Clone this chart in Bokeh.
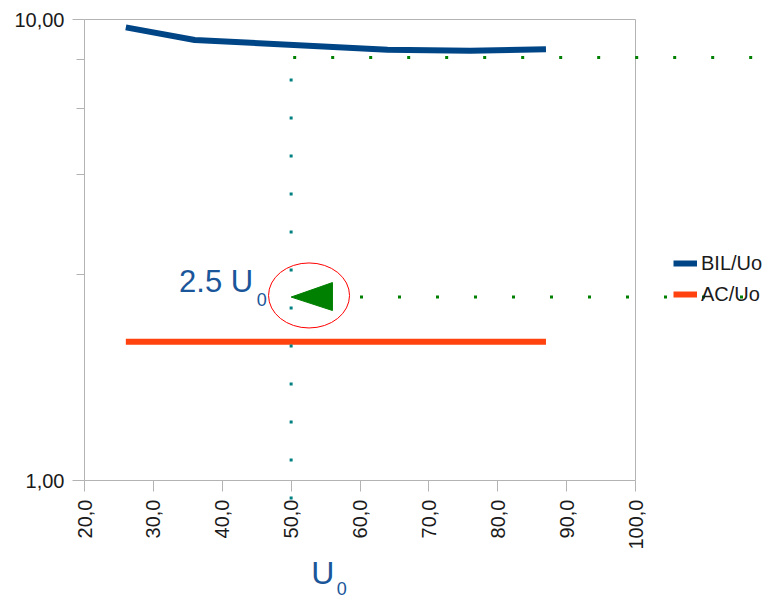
import math

from bokeh.plotting import figure
from bokeh.models import (Range1d, FixedTicker, CustomJSTickFormatter, Legend,
                          LegendItem, Label, Arrow, LinearAxis, LogAxis)
from bokeh.embed import file_html
from bokeh.resources import INLINE

# Cable rated voltage U0 (kV) with lightning impulse level BIL (kV)
uo_kv = [26, 36, 64, 76, 87]
bil_kv = [250, 325, 550, 650, 750]
# AC test voltage expressed as a multiple of U0
ac_ratio = [2.0, 2.0, 2.0, 2.0, 2.0]
bil_ratio = [b / u for b, u in zip(bil_kv, uo_kv)]

x_ticks = [20, 30, 40, 50, 60, 70, 80, 90, 100]
y_major = [1, 10]
y_minor = [2.8, 4.6, 6.4, 8.2]
X_MIN, X_MAX = 20, 100
Y_MIN, Y_MAX = 1, 10

# reference point highlighted on the chart: U0 = 50 kV, 2.5 U0
ref_u0 = 50
ref_level = 2.5
bil_guide = 8.27

FONT = "Liberation Sans"
AXIS_GREY = "#b3b3b3"
LABEL_BLUE = "#1a5699"

# The drawing area fills the whole page; the axes box (551 x 461 px, top-left
# corner at 84, 19) is drawn inside it with fixed-location axes, so that guide
# lines, the legend and the notes can sit outside the box.
W, H = 766, 600
LEFT, TOP = 84, 19
BOX_W, BOX_H = 551, 461
x_per_px = (X_MAX - X_MIN) / BOX_W
decades_per_px = math.log10(Y_MAX / Y_MIN) / BOX_H
x_start = X_MIN - LEFT * x_per_px
x_end = X_MIN + (W - LEFT) * x_per_px
y_start = Y_MIN * 10 ** (-(H - TOP - BOX_H) * decades_per_px)
y_end = Y_MAX * 10 ** (TOP * decades_per_px)

p = figure(width=W, height=H, x_range=Range1d(x_start, x_end), y_range=Range1d(y_start, y_end),
           y_axis_type="log", output_backend="svg", toolbar_location=None,
           min_border=0)
p.title.visible = False
p.background_fill_color = "white"
p.border_fill_color = "white"
p.outline_line_color = None
p.xgrid.visible = False
p.ygrid.visible = False

r_bil = p.line(uo_kv, bil_ratio, line_color="#004586", line_width=6)
r_ac = p.line(uo_kv, ac_ratio, line_color="#ff420e", line_width=6)

# callout around the reference point
p.ellipse(x=[52.6], y=[2.52], width=81, height=65, width_units="screen",
          height_units="screen", fill_color=None, line_color="#ff0000", line_width=1)
p.patch([ref_u0, ref_u0 + 6, ref_u0 + 6], [ref_level, ref_level * 1.075, ref_level * 0.935],
        fill_color="#008000", line_color="#008000", line_width=1)

# axes
xa = p.xaxis[0]
xa.fixed_location = Y_MIN
xa.bounds = (X_MIN, X_MAX)
xa.ticker = FixedTicker(ticks=x_ticks)
xa.formatter = CustomJSTickFormatter(code="return tick.toFixed(1).replace('.', ',')")
xa.major_label_orientation = math.pi / 2
xa.minor_tick_line_color = None
xa.major_tick_out = 11
xa.major_tick_in = 0
xa.major_label_standoff = 8

ya = p.yaxis[0]
ya.fixed_location = X_MIN
ya.bounds = (Y_MIN, Y_MAX)
ya.ticker = FixedTicker(ticks=y_major, minor_ticks=y_minor)
ya.formatter = CustomJSTickFormatter(code="return tick.toFixed(2).replace('.', ',')")
ya.major_tick_out = 12
ya.major_tick_in = 0
ya.minor_tick_out = 8
ya.minor_tick_in = 0
ya.major_label_standoff = 8
ya.minor_tick_line_color = AXIS_GREY

for ax in (xa, ya):
    ax.axis_line_color = AXIS_GREY
    ax.major_tick_line_color = AXIS_GREY
    ax.major_label_text_font = FONT
    ax.major_label_text_font_size = "20px"
    ax.major_label_text_color = "#1a1a1a"

# top and right edges of the axes box
top_edge = LinearAxis(fixed_location=Y_MAX, bounds=(X_MIN, X_MAX), ticker=FixedTicker(ticks=[]),
                      axis_line_color=AXIS_GREY, major_tick_line_color=None,
                      minor_tick_line_color=None, major_label_text_font_size="0px")
right_edge = LogAxis(fixed_location=X_MAX, bounds=(Y_MIN, Y_MAX), ticker=FixedTicker(ticks=[]),
                     axis_line_color=AXIS_GREY, major_tick_line_color=None,
                     minor_tick_line_color=None, major_label_text_font_size="0px")
p.add_layout(top_edge, "above")
p.add_layout(right_edge, "right")

legend = Legend(items=[LegendItem(label="BIL/Uo", renderers=[r_bil]),
                       LegendItem(label="AC/Uo", renderers=[r_ac])],
                location=(673, 293), padding=0, margin=0, spacing=5,
                glyph_width=24, glyph_height=26, label_height=26, label_standoff=4,
                label_text_font=FONT, label_text_font_size="20px",
                label_text_color="#1a1a1a", border_line_color=None,
                background_fill_alpha=0)
p.add_layout(legend)

# dotted guide lines
guides = [
    dict(x_start=ref_u0, y_start=7.45, x_end=ref_u0, y_end=0.905, line_color="#008080"),
    dict(x_start=50.3, y_start=bil_guide, x_end=117.3, y_end=bil_guide, line_color="#008000"),
    dict(x_start=60.0, y_start=ref_level, x_end=116.0, y_end=ref_level, line_color="#008000"),
]
for g in guides:
    p.add_layout(Arrow(end=None, line_width=3, line_dash="3 35", line_cap="butt", **g))

# annotation texts
p.add_layout(Label(x=ref_u0, y=ref_level, x_offset=-38, y_offset=15.5, text="2.5 U",
                   text_align="right", text_baseline="alphabetic", text_font=FONT,
                   text_font_size="31px", text_color=LABEL_BLUE))
p.add_layout(Label(x=ref_u0, y=ref_level, x_offset=-34.5, y_offset=-2.5, text="0",
                   text_align="left", text_baseline="alphabetic", text_font=FONT,
                   text_font_size="18px", text_color=LABEL_BLUE))
p.add_layout(Label(x=ref_u0, y=Y_MIN, x_offset=20, y_offset=-92, text="U",
                   text_align="left", text_baseline="alphabetic", text_font=FONT,
                   text_font_size="32px", text_color=LABEL_BLUE))
p.add_layout(Label(x=ref_u0, y=Y_MIN, x_offset=45.5, y_offset=-108, text="0",
                   text_align="left", text_baseline="alphabetic", text_font=FONT,
                   text_font_size="18px", text_color=LABEL_BLUE))

open("out.html", "w").write(file_html(p, INLINE))
